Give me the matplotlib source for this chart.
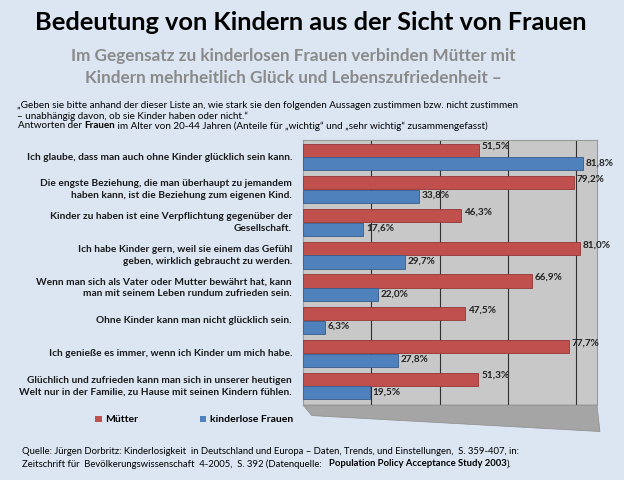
import numpy as np
import matplotlib
matplotlib.use('Agg')
from matplotlib import pyplot as plt
from matplotlib.patches import Polygon, Patch

plt.rcParams['font.family'] = ['Lato', 'DejaVu Sans']

# ---------- DATA ------------------------------------------------------------
categories = [
    'Ich glaube, dass man auch ohne Kinder glücklich sein kann.',
    'Die engste Beziehung, die man überhaupt zu jemandem\nhaben kann, ist die Beziehung zum eigenen Kind.',
    'Kinder zu haben ist eine Verpflichtung gegenüber der\nGesellschaft.',
    'Ich habe Kinder gern, weil sie einem das Gefühl\ngeben, wirklich gebraucht zu werden.',
    'Wenn man sich als Vater oder Mutter bewährt hat, kann\nman mit seinem Leben rundum zufrieden sein.',
    'Ohne Kinder kann man nicht glücklich sein.',
    'Ich genieße es immer, wenn ich Kinder um mich habe.',
    'Glüchlich und zufrieden kann man sich in unserer heutigen\nWelt nur in der Familie, zu Hause mit seinen Kindern fühlen.',
]
muetter = [51.5, 79.2, 46.3, 81.0, 66.9, 47.5, 77.7, 51.3]
kinderlos = [81.8, 33.8, 17.6, 29.7, 22.0, 6.3, 27.8, 19.5]
series_names = ['Mütter', 'kinderlose Frauen']

RED = '#C0504D'
BLUE = '#4F81BD'
BG = '#DCE6F2'

W, H = 624, 480
fig = plt.figure(figsize=(W / 100, H / 100), dpi=100, facecolor=BG)


def px(x, y):
    return x / W, 1 - y / H


def mixed_text(x, y, parts, size):
    # parts: list of (text, weight); drawn one after another on one line
    fig.canvas.draw()
    renderer = fig.canvas.get_renderer()
    cx, cy = px(x, y)
    for s, w in parts:
        t = fig.text(cx, cy, s, fontsize=size, fontweight=w, va='center', ha='left')
        bb = t.get_window_extent(renderer=renderer)
        cx += bb.width / W


# ---------- TEXTS -----------------------------------------------------------
fig.text(*px(311, 23), 'Bedeutung von Kindern aus der Sicht von Frauen',
         fontsize=18.3, fontweight='bold', ha='center', va='center')
fig.text(*px(293, 56), 'Im Gegensatz zu kinderlosen Frauen verbinden Mütter mit',
         fontsize=12.3, fontweight='bold', color='#8A8A8A', ha='center', va='center')
fig.text(*px(293, 78), 'Kindern mehrheitlich Glück und Lebenszufriedenheit –',
         fontsize=12.3, fontweight='bold', color='#8A8A8A', ha='center', va='center')

fig.text(*px(17, 105), '„Geben sie bitte anhand der dieser Liste an, wie stark sie den folgenden '
         'Aussagen zustimmen bzw. nicht zustimmen', fontsize=7.1, va='center')
fig.text(*px(17, 116), '– unabhängig davon, ob sie Kinder haben oder nicht.“',
         fontsize=7.1, va='center')

# ---------- CHART -----------------------------------------------------------
ax = fig.add_axes([303 / W, 1 - 405 / H, 294 / W, 265 / H])
ax.set_facecolor('#C8C8C8')
y = np.arange(len(categories))
h = 0.4
ax.barh(y - 0.21, muetter, height=h, color=RED, edgecolor='#943634', linewidth=0.6, zorder=3)
ax.barh(y + 0.21, kinderlos, height=h, color=BLUE, edgecolor='#385D8A', linewidth=0.6, zorder=3)

fmt = lambda v: '{:.1f}%'.format(v).replace('.', ',')
for yi, v in zip(y, muetter):
    ax.text(v + 0.8, yi - 0.32, fmt(v), fontsize=7.2, fontweight='bold',
            color='#222222', va='center', zorder=4)
for yi, v in zip(y, kinderlos):
    ax.text(v + 0.8, yi + 0.18, fmt(v), fontsize=7.2, fontweight='bold',
            color='#222222', va='center', zorder=4)

ax.set_xlim(0, 86)
ax.set_ylim(7.58, -0.52)
ax.set_xticks([20, 40, 60, 80])
ax.set_yticks([])
ax.tick_params(axis='x', length=0, labelbottom=False)
ax.grid(axis='x', color='#303030', linewidth=0.8, zorder=1)
for s in ax.spines.values():
    s.set_color('#9A9A9A')
    s.set_linewidth(0.8)

# floor of the box
floor = Polygon([(0, 0), (1, 0), (1.01, -0.1), (0.03, -0.04)], closed=True,
                transform=ax.transAxes, facecolor='#A5A5A5', edgecolor='#8C8C8C',
                linewidth=0.5, clip_on=False)
ax.add_patch(floor)

# category labels
for yi, lab in zip(y, categories):
    ax.annotate(lab, xy=(0, yi), xycoords=('axes fraction', 'data'),
                xytext=(-8, 0), textcoords='offset points', ha='right', va='center',
                fontsize=7.3, fontweight='bold', color='#1A1A1A', multialignment='right',
                linespacing=1.4)

handles = [Patch(facecolor=RED), Patch(facecolor=BLUE)]
fig.legend(handles, series_names, loc='center', bbox_to_anchor=px(194, 420), ncol=2,
           frameon=False, handlelength=0.6, handleheight=0.6, handletextpad=0.3,
           columnspacing=6, prop={'size': 7.5, 'weight': 'bold'})

mixed_text(18, 126, [('Antworten der ', 'normal'), ('Frauen', 'bold'),
                     (' im Alter von 20-44 Jahren (Anteile für „wichtig“ und '
                      '„sehr wichtig“ zusammengefasst)', 'normal')], 7.1)
fig.text(*px(22, 452), 'Quelle: Jürgen Dorbritz: Kinderlosigkeit  in Deutschland und Europa '
         '– Daten, Trends, und Einstellungen,  S. 359-407, in:', fontsize=6.8, va='center')
mixed_text(22, 464, [('Zeitschrift für  Bevölkerungswissenschaft  4-2005,  S. 392 (Datenquelle:   ',
                      'normal'), ('Population Policy Acceptance Study 2003', 'bold'),
                     (').', 'normal')], 6.8)

fig.savefig('out.png', dpi=100, facecolor=BG)
